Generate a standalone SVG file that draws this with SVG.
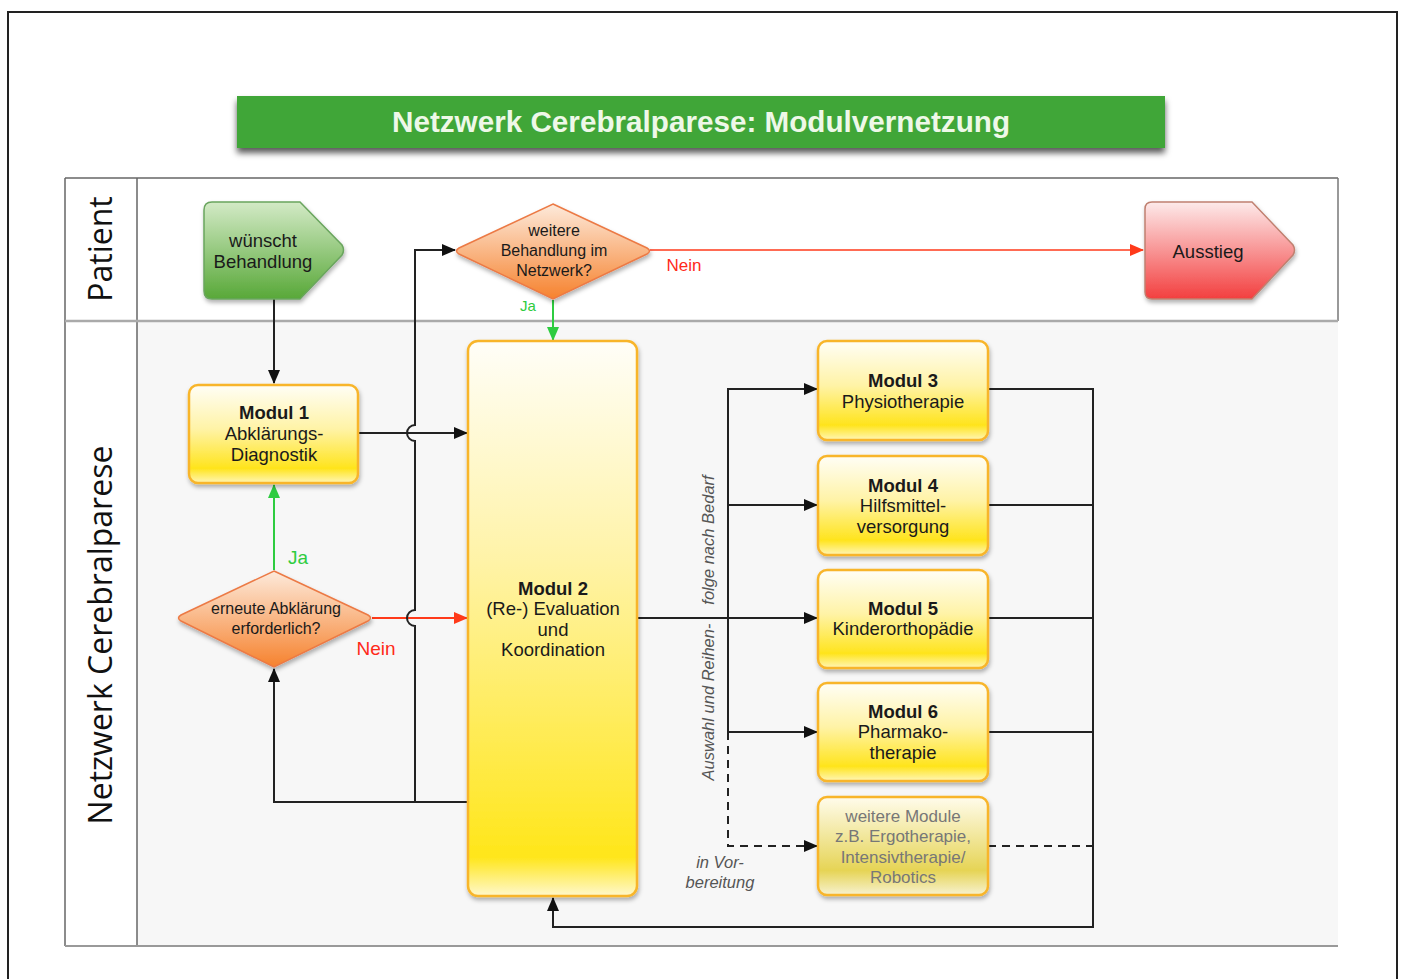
<svg xmlns="http://www.w3.org/2000/svg" width="1402" height="979" viewBox="0 0 1402 979">
<defs>
<style>
.t{font-family:"Liberation Sans",Arial,sans-serif;font-size:18.5px;fill:#1a1a1a;text-anchor:middle}
.d{font-size:16px}
.b{font-weight:bold}
.lane{font-family:"Open Sans","DejaVu Sans",sans-serif;font-size:32px;fill:#111;text-anchor:middle}
.it{font-family:"Liberation Sans",Arial,sans-serif;font-size:16.5px;font-style:italic;fill:#555;text-anchor:middle}
.c{fill:none;stroke:#222;stroke-width:2}
.mod{stroke:#f8b52a;stroke-width:2.5}
.g{fill:#777}
</style>
<linearGradient id="gY" x1="0" y1="0" x2="0" y2="1">
<stop offset="0" stop-color="#fffef6"/>
<stop offset="0.45" stop-color="#fff3a6"/>
<stop offset="0.85" stop-color="#ffe41c"/>
<stop offset="1" stop-color="#fff6b8"/>
</linearGradient>
<linearGradient id="gY2" x1="0" y1="0" x2="0" y2="1">
<stop offset="0" stop-color="#fffef8"/>
<stop offset="0.4" stop-color="#fff3a6"/>
<stop offset="0.93" stop-color="#ffe61a"/>
<stop offset="1" stop-color="#fff8cc"/>
</linearGradient>
<linearGradient id="gW" x1="0" y1="0" x2="0" y2="1">
<stop offset="0" stop-color="#fffcec"/>
<stop offset="0.75" stop-color="#e6d455"/>
<stop offset="1" stop-color="#f7f2d0"/>
</linearGradient>
<linearGradient id="gO" x1="0" y1="0" x2="0" y2="1">
<stop offset="0" stop-color="#fdeadb"/>
<stop offset="1" stop-color="#f6822e"/>
</linearGradient>
<linearGradient id="gG" x1="0" y1="0" x2="0" y2="1">
<stop offset="0" stop-color="#d3eac6"/>
<stop offset="1" stop-color="#58a838"/>
</linearGradient>
<linearGradient id="gR" x1="0" y1="0" x2="0" y2="1">
<stop offset="0" stop-color="#fdeaea"/>
<stop offset="1" stop-color="#f33f3f"/>
</linearGradient>
<filter id="sh" x="-10%" y="-10%" width="125%" height="130%">
<feDropShadow dx="1" dy="3" stdDeviation="2" flood-color="#000" flood-opacity="0.3"/>
</filter>
<filter id="shT" x="-5%" y="-20%" width="110%" height="170%">
<feDropShadow dx="0" dy="5" stdDeviation="3" flood-color="#000" flood-opacity="0.65"/>
</filter>
<marker id="aK" markerWidth="14" markerHeight="12" refX="13" refY="6" orient="auto" markerUnits="userSpaceOnUse"><path d="M0,0 L14,6 L0,12 Z" fill="#111"/></marker>
<marker id="aG" markerWidth="14" markerHeight="12" refX="13" refY="6" orient="auto" markerUnits="userSpaceOnUse"><path d="M0,0 L14,6 L0,12 Z" fill="#2ecc40"/></marker>
<marker id="aR" markerWidth="14" markerHeight="12" refX="13" refY="6" orient="auto" markerUnits="userSpaceOnUse"><path d="M0,0 L14,6 L0,12 Z" fill="#ff3a1a"/></marker>
</defs>

<rect x="0" y="0" width="1402" height="979" fill="#fff"/>
<rect x="8" y="12" width="1389" height="980" fill="none" stroke="#222" stroke-width="2"/>

<g id="title">
<rect x="237" y="96" width="928" height="52" fill="#3fa637" filter="url(#shT)"/>
<text x="701" y="132" font-family="Liberation Sans,Arial,sans-serif" font-size="29" font-weight="bold" fill="#eef8e8" text-anchor="middle" textLength="618" lengthAdjust="spacingAndGlyphs">Netzwerk Cerebralparese: Modulvernetzung</text>
</g>

<g id="lanes">
<rect x="65" y="178" width="1273" height="143" fill="#fff"/>
<rect x="65" y="321" width="1273" height="625" fill="#f7f7f7"/>
<rect x="65" y="178" width="72" height="768" fill="#fff"/>
<line x1="65" y1="178" x2="1338" y2="178" stroke="#666" stroke-width="1.5"/>
<line x1="1338" y1="178" x2="1338" y2="321" stroke="#777" stroke-width="1.5"/>
<line x1="65" y1="178" x2="65" y2="946" stroke="#666" stroke-width="1.5"/>
<line x1="137" y1="178" x2="137" y2="946" stroke="#666" stroke-width="1.5"/>
<line x1="65" y1="321" x2="1338" y2="321" stroke="#aaa" stroke-width="2.5"/>
<line x1="65" y1="946" x2="1338" y2="946" stroke="#999" stroke-width="2"/>
<text class="lane" transform="translate(112,249) rotate(-90)">Patient</text>
<text class="lane" transform="translate(112,635) rotate(-90)">Netzwerk Cerebralparese</text>
</g>

<g id="connectors">
<path class="c" d="M274,299 L274,383" marker-end="url(#aK)"/>
<path d="M553,300 L553,340" fill="none" stroke="#2ecc40" stroke-width="2" marker-end="url(#aG)"/>
<path d="M650,250 L1143,250" fill="none" stroke="#ff3a1a" stroke-width="1.5" marker-end="url(#aR)"/>
<path class="c" d="M358,433 L467,433" marker-end="url(#aK)"/>
<path d="M274,570 L274,485" fill="none" stroke="#2ecc40" stroke-width="2" marker-end="url(#aG)"/>
<path d="M372,618 L467,618" fill="none" stroke="#ff3a1a" stroke-width="2" marker-end="url(#aR)"/>
<path class="c" d="M468,802 L274,802 L274,669" marker-end="url(#aK)"/>
<path class="c" d="M415,802 L415,626 A8,8 0 0 1 415,610 L415,441 A8,8 0 0 1 415,425 L415,250 L455,250" marker-end="url(#aK)"/>
<path class="c" d="M637,618 L817,618" marker-end="url(#aK)"/>
<path class="c" d="M728,732 L728,389 L817,389" marker-end="url(#aK)"/>
<path class="c" d="M728,505 L817,505" marker-end="url(#aK)"/>
<path class="c" d="M728,732 L817,732" marker-end="url(#aK)"/>
<path class="c" d="M728,732 L728,846 L817,846" stroke-dasharray="8,6" marker-end="url(#aK)"/>
<path class="c" d="M988,389 L1093,389 L1093,927 L553,927 L553,898" marker-end="url(#aK)"/>
<path class="c" d="M988,505 L1093,505"/>
<path class="c" d="M988,618 L1093,618"/>
<path class="c" d="M988,732 L1093,732"/>
<path class="c" d="M988,846 L1093,846" stroke-dasharray="8,6"/>
<text x="684" y="271" font-family="Liberation Sans,Arial,sans-serif" font-size="17" fill="#ff2a1a" text-anchor="middle">Nein</text>
<text x="528" y="311" font-family="Liberation Sans,Arial,sans-serif" font-size="15" fill="#2ecc40" text-anchor="middle">Ja</text>
<text x="298" y="564" font-family="Liberation Sans,Arial,sans-serif" font-size="19" fill="#2ecc40" text-anchor="middle">Ja</text>
<text x="376" y="655" font-family="Liberation Sans,Arial,sans-serif" font-size="19" fill="#ff2a1a" text-anchor="middle">Nein</text>
<text class="it" transform="translate(714,540) rotate(-90)">folge nach Bedarf</text>
<text class="it" transform="translate(714,702) rotate(-90)">Auswahl und Reihen-</text>
<text class="it" x="720" y="868">in Vor-</text>
<text class="it" x="720" y="888">bereitung</text>
</g>

<g id="start">
<path d="M212,202 L300,202 L342,245 Q345,250 342,255 L300,299 L212,299 Q204,299 204,291 L204,210 Q204,202 212,202 Z" fill="url(#gG)" stroke="#6aa55e" stroke-width="1.5" filter="url(#sh)"/>
<text class="t" x="263" y="247">wünscht</text>
<text class="t" x="263" y="268">Behandlung</text>
</g>

<g id="decision1">
<path d="M553,204 L647,248 Q652,251 647,254 L553,299 L459,254 Q454,251 459,248 Z" fill="url(#gO)" stroke="#ec7a45" stroke-width="1.5" filter="url(#sh)"/>
<text class="t d" x="554" y="236">weitere</text>
<text class="t d" x="554" y="256">Behandlung im</text>
<text class="t d" x="554" y="276">Netzwerk?</text>
</g>

<g id="exit">
<path d="M1152,202 L1252,202 L1293,245 Q1296,250 1293,255 L1252,299 L1152,299 Q1145,299 1145,292 L1145,209 Q1145,202 1152,202 Z" fill="url(#gR)" stroke="#c08070" stroke-width="1.5" filter="url(#sh)"/>
<text class="t" x="1208" y="258">Ausstieg</text>
</g>

<g id="modul1">
<rect x="189" y="385" width="169" height="98" rx="9" fill="url(#gY)" class="mod" filter="url(#sh)"/>
<text class="t b" x="274" y="419">Modul 1</text>
<text class="t" x="274" y="440">Abklärungs-</text>
<text class="t" x="274" y="461">Diagnostik</text>
</g>

<g id="decision2">
<path d="M274,571 L368,615 Q373,618 368,621 L274,667 L181,621 Q176,618 181,615 Z" fill="url(#gO)" stroke="#ec7a45" stroke-width="1.5" filter="url(#sh)"/>
<text class="t d" x="276" y="614">erneute Abklärung</text>
<text class="t d" x="276" y="634">erforderlich?</text>
</g>

<g id="modul2">
<rect x="468" y="341" width="169" height="555" rx="10" fill="url(#gY2)" class="mod" filter="url(#sh)"/>
<text class="t b" x="553" y="595">Modul 2</text>
<text class="t" x="553" y="615">(Re-) Evaluation</text>
<text class="t" x="553" y="636">und</text>
<text class="t" x="553" y="656">Koordination</text>
</g>

<g id="modul3">
<rect x="818" y="341" width="170" height="99" rx="9" fill="url(#gY)" class="mod" filter="url(#sh)"/>
<text class="t b" x="903" y="387">Modul 3</text>
<text class="t" x="903" y="408">Physiotherapie</text>
</g>

<g id="modul4">
<rect x="818" y="456" width="170" height="99" rx="9" fill="url(#gY)" class="mod" filter="url(#sh)"/>
<text class="t b" x="903" y="492">Modul 4</text>
<text class="t" x="903" y="512">Hilfsmittel-</text>
<text class="t" x="903" y="533">versorgung</text>
</g>

<g id="modul5">
<rect x="818" y="570" width="170" height="98" rx="9" fill="url(#gY)" class="mod" filter="url(#sh)"/>
<text class="t b" x="903" y="615">Modul 5</text>
<text class="t" x="903" y="635">Kinderorthopädie</text>
</g>

<g id="modul6">
<rect x="818" y="683" width="170" height="98" rx="9" fill="url(#gY)" class="mod" filter="url(#sh)"/>
<text class="t b" x="903" y="718">Modul 6</text>
<text class="t" x="903" y="738">Pharmako-</text>
<text class="t" x="903" y="759">therapie</text>
</g>

<g id="weitere">
<rect x="818" y="797" width="170" height="98" rx="9" fill="url(#gW)" class="mod" filter="url(#sh)"/>
<text class="t g" x="903" y="822" style="font-size:17px">weitere Module</text>
<text class="t g" x="903" y="842" style="font-size:17px">z.B. Ergotherapie,</text>
<text class="t g" x="903" y="863" style="font-size:17px">Intensivtherapie/</text>
<text class="t g" x="903" y="883" style="font-size:17px">Robotics</text>
</g>
</svg>
